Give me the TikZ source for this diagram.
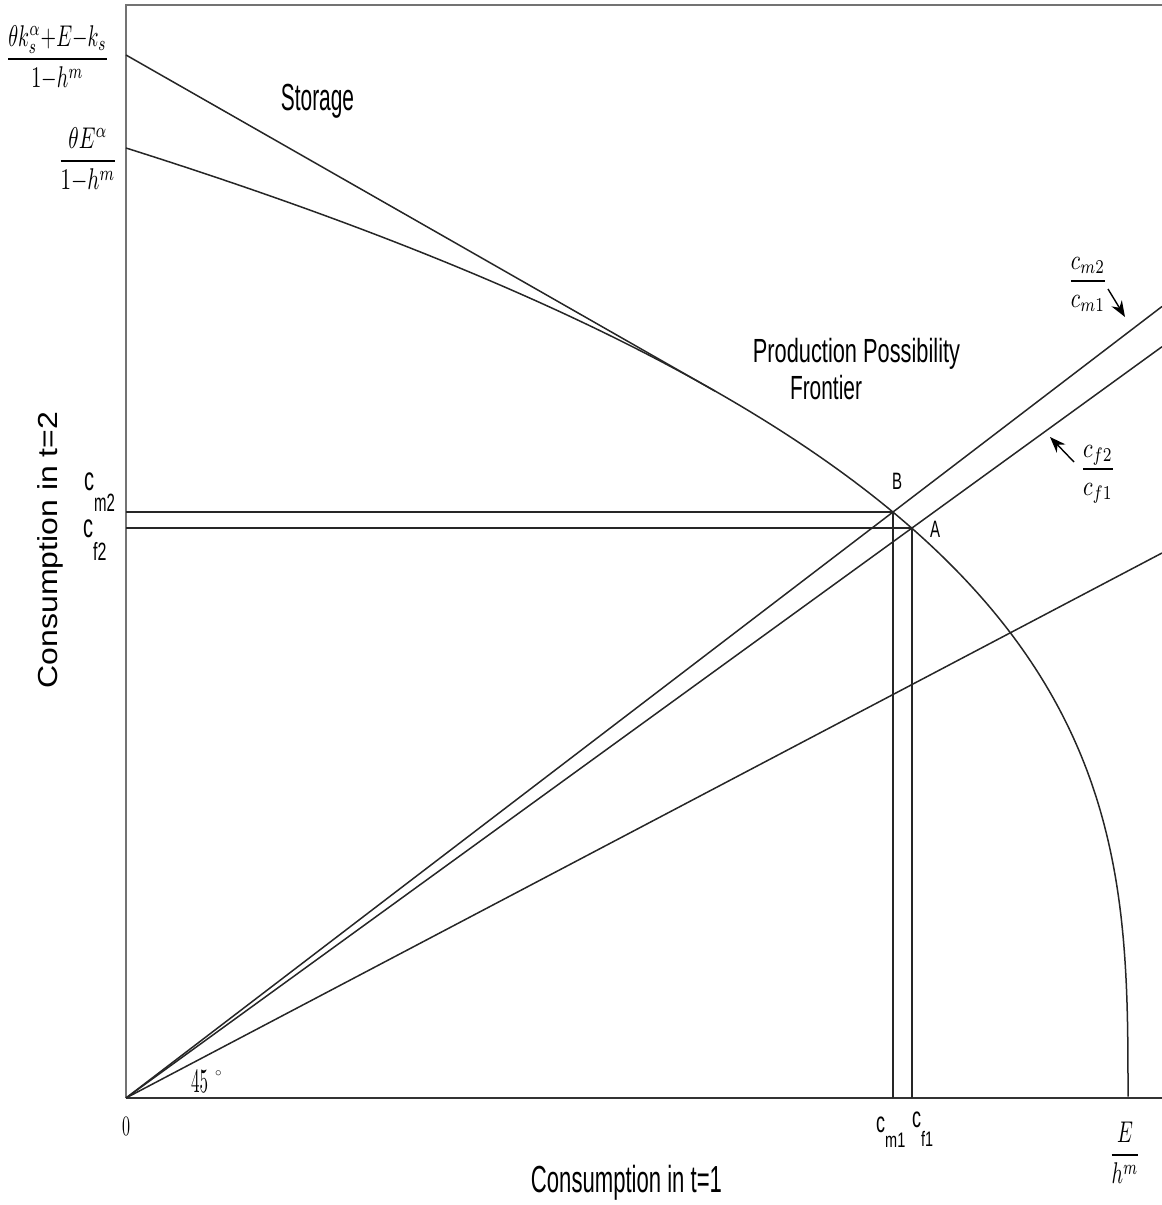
\documentclass[tikz,border=0pt]{standalone}
\usepackage{fontspec}
\usepackage{graphicx}
\usetikzlibrary{calc,arrows.meta}
\newfontfamily\hv{Liberation Sans}
\newcommand{\mysc}[3]{\scalebox{#1}[#2]{#3}}
\begin{document}
\begin{tikzpicture}[x=1pt,y=-1pt,
  curve/.style={line width=1.5pt, black!85},
  axis/.style={line width=1.2pt, black!55},
  baseaxis/.style={line width=1.3pt, black!80},
  lbl/.style={inner sep=0pt, font=\hv},
  mlbl/.style={inner sep=0pt},
  pointer/.style={-{Stealth[length=16pt,width=12pt]}, line width=1.4pt, black}]
\useasboundingbox (0,0) rectangle (1162,1205);
% key points
\coordinate (O) at (126,1098);
\coordinate (TL) at (126,5);
\coordinate (TR) at (1162,5);
\coordinate (BR) at (1162,1098);
\coordinate (S0) at (126,55);
\coordinate (T) at (715,391.1);
\coordinate (B) at (893,512);
\coordinate (A) at (912,528);
\coordinate (R3) at (1162,553);
\coordinate (a1s) at (1108,289);
\coordinate (a1e) at (1125,317);
\coordinate (a2s) at (1074,462);
\coordinate (a2e) at (1050,437);
% axes / frame
\draw[axis] (TR) -- (TL) -- (O);
\draw[baseaxis] (O) -- (BR);
% production possibility frontier
\draw[curve] plot[domain=1:0, samples=400, variable=\vv] ({126+1002*(1-\vv*\vv*\vv)}, {1098-950*\vv});
% storage line
\draw[curve] (S0) -- (T);
% rays from origin
\draw[curve] (O) -- ($(O)!1.3507!(B)$);
\draw[curve] (O) -- ($(O)!1.3181!(A)$);
\draw[curve] (O) -- (R3);
% drop lines
\draw[curve] (O |- B) -- (B) -- (B |- O);
\draw[curve] (O |- A) -- (A) -- (A |- O);
% pointers
\draw[pointer] (a1s) -- (a1e);
\draw[pointer] (a2s) -- (a2e);
% math labels
\node[mlbl, anchor=base] (fk) at (57.5,66.5) {\mysc{2.0}{3.0}{$\displaystyle\frac{\theta k_s^\alpha{+}E{-}k_s}{1{-}h^m}$}};
\node[mlbl, anchor=base] (fe) at (88,168.5) {\mysc{2.1}{3.0}{$\displaystyle\frac{\theta E^\alpha}{1{-}h^m}$}};
\node[mlbl, anchor=base] (fm) at (1088,288) {\mysc{2.15}{2.8}{$\displaystyle\frac{c_{m2}}{c_{m1}}$}};
\node[mlbl, anchor=base] (ff) at (1098,476) {\mysc{2.2}{2.8}{$\displaystyle\frac{c_{f2}}{c_{f1}}$}};
\node[mlbl, anchor=base] (fE) at (1125,1162.5) {\mysc{2.0}{3.0}{$\displaystyle\frac{E}{h^m}$}};
\node[mlbl, anchor=base west] (deg) at (191,1092) {\mysc{1.7}{3.4}{$45$}\hspace{7pt}\raisebox{16pt}{\mysc{1.3}{1.3}{$\circ$}}};
\node[mlbl, anchor=base] (zero) at (126,1135) {\mysc{1.6}{2.8}{0}};
% text labels
\node[lbl, anchor=base] (storage) at (317.5,110) {\mysc{2.09}{3.77}{Storage}};
\node[lbl, anchor=base] (ppf1) at (856.5,362) {\mysc{2.18}{3.35}{Production Possibility}};
\node[lbl, anchor=base] (ppf2) at (826,399) {\mysc{2.09}{3.35}{Frontier}};
\node[lbl, anchor=base] (xlab) at (626.5,1192) {\mysc{2.21}{3.77}{Consumption in t=1}};
\node[lbl, rotate=90] (ylab) at (50,550) {\mysc{3.2}{2.75}{Consumption in t=2}};
\node[lbl, anchor=base] (lB) at (897,489) {\mysc{1.5}{2.37}{B}};
\node[lbl, anchor=base] (lA) at (935,537) {\mysc{1.5}{2.37}{A}};
\node[lbl, anchor=base west] (cm2) at (84,490) {\mysc{2.0}{3.3}{c}\raisebox{-21pt}{\mysc{1.5}{2.5}{m2}}};
\node[lbl, anchor=base west] (cf2) at (83,537) {\mysc{2.0}{3.3}{c}\raisebox{-23pt}{\mysc{1.6}{2.5}{f2}}};
\node[lbl, anchor=base west] (cm1) at (876,1132) {\mysc{1.8}{2.9}{c}\raisebox{-15pt}{\mysc{1.45}{2.1}{m1}}};
\node[lbl, anchor=base west] (cf1) at (912,1127) {\mysc{1.8}{2.9}{c}\raisebox{-19pt}{\mysc{1.44}{2.1}{f1}}};
\end{tikzpicture}
\end{document}
